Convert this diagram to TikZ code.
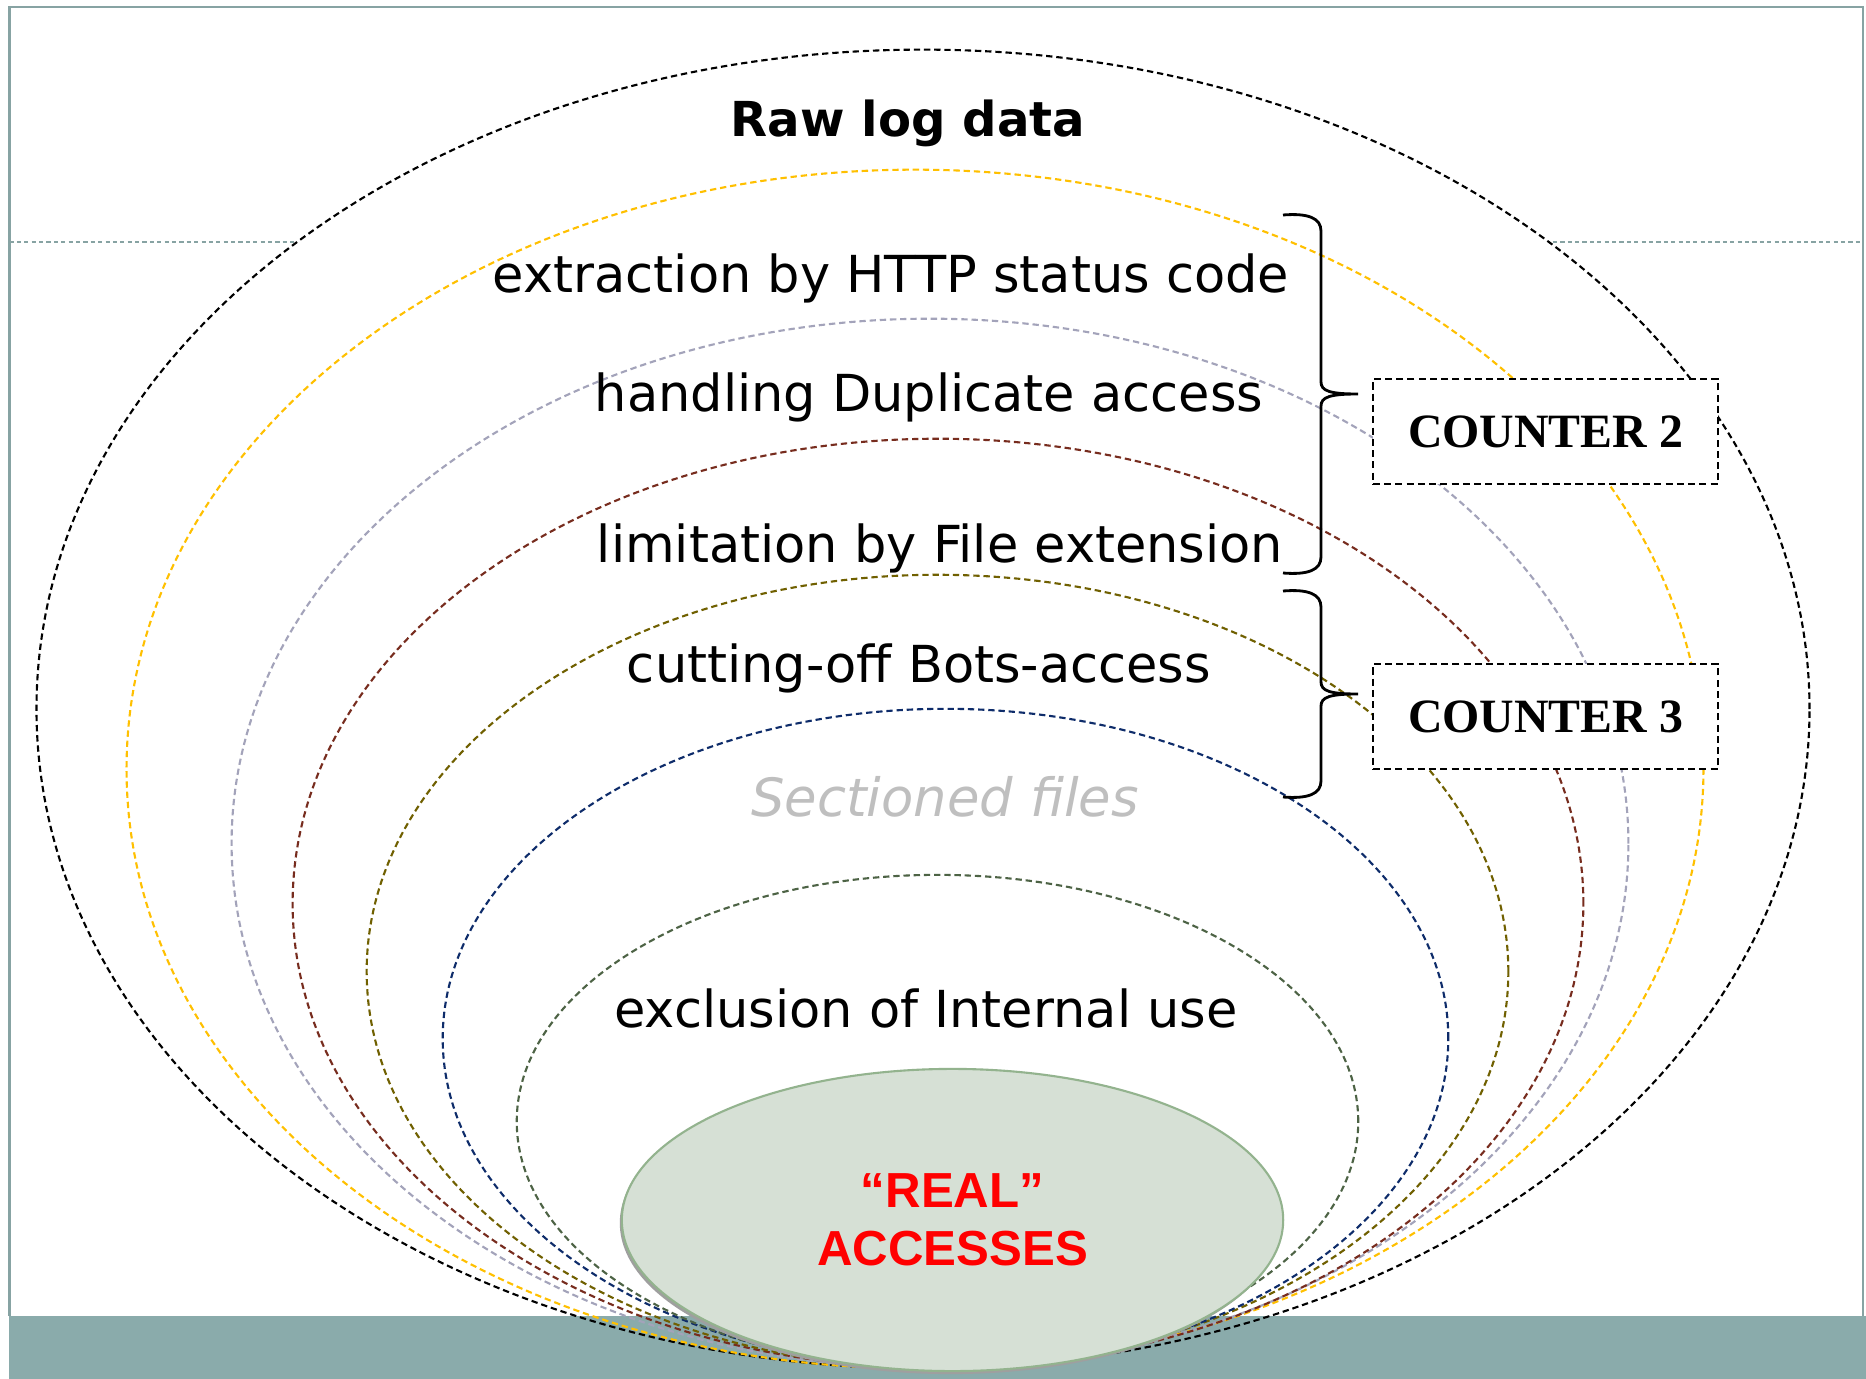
\documentclass[tikz,border=0pt]{standalone}
\usepackage{fontspec}
\setmainfont{DejaVu Sans}
\newfontfamily\counterfont{Liberation Serif}
\newfontfamily\realfont{Liberation Sans}
\usepackage{tikz}
\usetikzlibrary{calc,shapes.geometric}
\definecolor{framegray}{HTML}{87A3A3}
\definecolor{bandteal}{HTML}{8AABAB}
\definecolor{stepyellow}{HTML}{FFC000}
\definecolor{steplavender}{HTML}{A3A3BA}
\definecolor{stepbrown}{HTML}{772C1E}
\definecolor{stepolive}{HTML}{706000}
\definecolor{stepnavy}{HTML}{0E2C6A}
\definecolor{stepgreen}{HTML}{4D6345}
\definecolor{realfill}{HTML}{D6E0D5}
\definecolor{realedge}{HTML}{93B38E}
\definecolor{realred}{HTML}{FF0000}
\definecolor{fadedtext}{HTML}{BFBFBF}
\tikzset{
  layer/.style={dash pattern=on 1.8pt off 1.1pt, line width=0.6pt},
  steptext/.style={anchor=base, inner sep=0pt, font=\fontsize{14.5}{17}\selectfont},
  counterbox/.style={draw, fill=white, dash pattern=on 2pt off 1.2pt, line width=0.75pt,
    minimum width=3.45cm, minimum height=1.05cm, inner sep=0pt,
    font=\counterfont\bfseries\fontsize{13.6}{16}\selectfont},
  bracestroke/.style={black, line width=0.8pt},
  pics/curlybrace/.style={code={
    \draw[bracestroke] (-75,-#1) .. controls (-50,-#1-2) and (-37,-#1+3) .. (-37,-#1+16)
      -- (-37,-12) .. controls (-37,-3) and (-28,0) .. (0,0)
      .. controls (-28,0) and (-37,3) .. (-37,12)
      -- (-37,#1-16) .. controls (-37,#1-3) and (-50,#1+2) .. (-75,#1);
  }}
}
\begin{document}
\begin{tikzpicture}[x=0.01cm, y=-0.01cm]
    \useasboundingbox (0,0) rectangle (1866,1379);

    % Frame
    \draw[framegray, line width=0.6pt] (9.5,1316) -- (9.5,7) -- (1863,7) -- (1863,1316);
    \draw[framegray, dash pattern=on 1.2pt off 0.9pt, line width=0.5pt] (9.5,242) -- (1863,242);
    \fill[white] (923,709) ellipse [x radius=8.86cm, y radius=6.59cm];
    \fill[bandteal] (8.5,1316) rectangle (1866,1379);

    % Layers
    \draw[layer, black] (923,709) ellipse [x radius=8.86cm, y radius=6.59cm];
    \draw[layer, stepyellow] (915,769) ellipse [x radius=7.88cm, y radius=5.99cm];
    \draw[layer, steplavender] (930,843.5) ellipse [x radius=6.98cm, y radius=5.245cm];
    \draw[layer, stepbrown] (938,903.5) ellipse [x radius=6.45cm, y radius=4.645cm];
    \draw[layer, stepolive] (937.5,971.5) ellipse [x radius=5.705cm, y radius=3.965cm];
    \draw[layer, stepnavy] (945.5,1038.5) ellipse [x radius=5.025cm, y radius=3.295cm];
    \draw[layer, stepgreen] (937.5,1121.5) ellipse [x radius=4.205cm, y radius=2.465cm];

    % Real accesses
    \fill[gray!75] (950.5,1223) ellipse [x radius=3.305cm, y radius=1.51cm];
    \node[ellipse, draw=realedge, fill=realfill, line width=0.6pt, inner sep=0pt,
      minimum width=6.61cm, minimum height=3.02cm, align=center, text=realred,
      font=\realfont\bfseries\fontsize{14}{16.5}\selectfont] (real) at (952.5,1220)
      {“REAL”\\ACCESSES};

    % Texts
    \node[anchor=base, inner sep=0pt, font=\bfseries\fontsize{13.7}{16}\selectfont] (rawlog) at (908,137) {Raw log data};
    \node[steptext] (httpstatus) at (891,292) {extraction by HTTP status code};
    \node[steptext] (duplicate) at (929,412) {handling Duplicate access};
    \node[steptext] (fileext) at (940,562) {limitation by File extension};
    \node[steptext] (bots) at (919,682) {cutting-off Bots-access};
    \node[steptext, text=fadedtext, font=\itshape\fontsize{15}{17}\selectfont] (sectioned) at (945,816) {Sectioned files};
    \node[steptext] (internal) at (926,1027) {exclusion of Internal use};

    % Counters
    \pic at (1358,394) {curlybrace=179};
    \pic at (1358,694) {curlybrace=103};
    \node[counterbox] (counter2) at (1545.5,431.5) {COUNTER 2};
    \node[counterbox] (counter3) at (1545.5,716.5) {COUNTER 3};
\end{tikzpicture}
\end{document}
